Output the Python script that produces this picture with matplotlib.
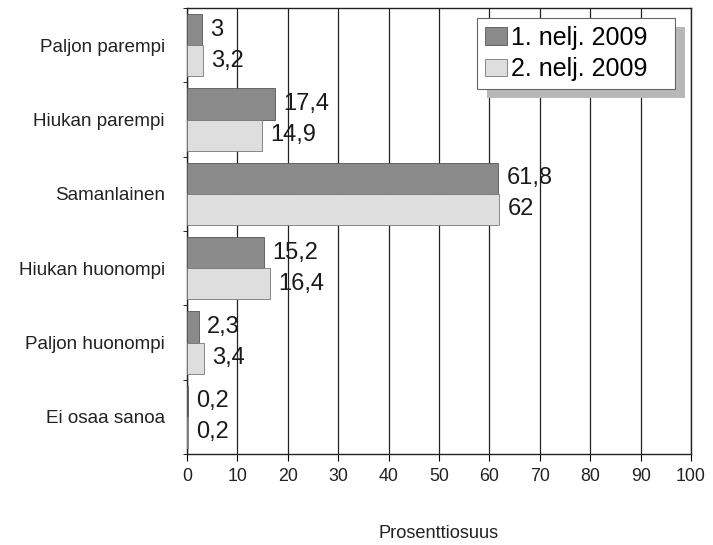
import numpy as np
import matplotlib.pyplot as plt
from matplotlib import font_manager
from matplotlib.patches import Rectangle

categories = ['Paljon parempi', 'Hiukan parempi', 'Samanlainen',
              'Hiukan huonompi', 'Paljon huonompi', 'Ei osaa sanoa']
q1_2009 = [3, 17.4, 61.8, 15.2, 2.3, 0.2]
q2_2009 = [3.2, 14.9, 62, 16.4, 3.4, 0.2]
series_names = ['1. nelj. 2009', '2. nelj. 2009']

installed = {f.name for f in font_manager.fontManager.ttflist}
narrow_ok = 'Liberation Sans Narrow' in installed
narrow = ['Liberation Sans Narrow' if narrow_ok else 'Liberation Sans', 'DejaVu Sans']
k = 1.0 if narrow_ok else 0.85
plt.rcParams['font.family'] = ['Liberation Sans', 'DejaVu Sans']

fig = plt.figure(figsize=(7.13, 5.45), dpi=100)
ax = fig.add_axes([187 / 713, 1 - 454 / 545, 504 / 713, 446 / 545])

y = np.arange(len(categories))
h = 0.42
b1 = ax.barh(y - h / 2, q1_2009, height=h, color='#8a8a8a', edgecolor='#555555',
             linewidth=0.6, label=series_names[0], zorder=3)
b2 = ax.barh(y + h / 2, q2_2009, height=h, color='#dedede', edgecolor='#777777',
             linewidth=0.6, label=series_names[1], zorder=3)

fmt = lambda v: ('%g' % v).replace('.', ',')
for bars, vals in ((b1, q1_2009), (b2, q2_2009)):
    for rect, v in zip(bars, vals):
        ax.annotate(fmt(v), (v, rect.get_y() + rect.get_height() / 2),
                    xytext=(6, 0), textcoords='offset points',
                    va='center', ha='left', fontsize=17, color='#1a1a1a', zorder=4)

ax.set_xlim(0, 100)
ax.set_ylim(len(categories) - 0.5, -0.5)
ax.set_xticks(np.arange(0, 101, 10))
ax.set_yticks(y)
ax.set_yticklabels(categories, family=narrow, fontsize=16 * k, color='#222222')
ax.set_yticks(np.arange(-0.5, len(categories), 1), minor=True)
for lab in ax.get_xticklabels():
    lab.set_family(narrow)
    lab.set_fontsize(15 * k)
    lab.set_color('#222222')
ax.tick_params(axis='y', which='major', length=0, pad=16)
ax.tick_params(axis='y', which='minor', length=3, direction='out')
ax.tick_params(axis='x', length=5, direction='out', pad=5)
ax.grid(axis='x', color='#222222', linewidth=0.9, zorder=0)
for s in ax.spines.values():
    s.set_color('#222222')
    s.set_linewidth(1.0)

ax.set_xlabel('Prosenttiosuus', family=narrow, fontsize=15.5 * k, color='#222222',
              labelpad=29)

lx0 = (477 - 187) / 504
ly1 = (454 - 18) / 446
lw = (675 - 477) / 504
lh = (90 - 18) / 446
leg = ax.legend(loc='upper left', bbox_to_anchor=(lx0, ly1 - lh, lw, lh), mode='expand',
                frameon=True, fancybox=False, fontsize=18, handlelength=0.9,
                handleheight=0.7, handletextpad=0.15, borderpad=0.3, labelspacing=0.3,
                borderaxespad=0)
leg.get_frame().set_edgecolor('#666666')
leg.get_frame().set_linewidth(0.8)
leg.get_frame().set_alpha(1)
leg.set_zorder(6)

# grey shadow behind the legend box
fig.canvas.draw()
bb = leg.get_window_extent()
shadow = Rectangle((bb.x0 + 10, bb.y0 - 9), bb.width, bb.height, transform=None,
                   facecolor='#b8b8b8', edgecolor='none', zorder=5)
ax.add_artist(shadow)

fig.savefig('out.png', dpi=100)
